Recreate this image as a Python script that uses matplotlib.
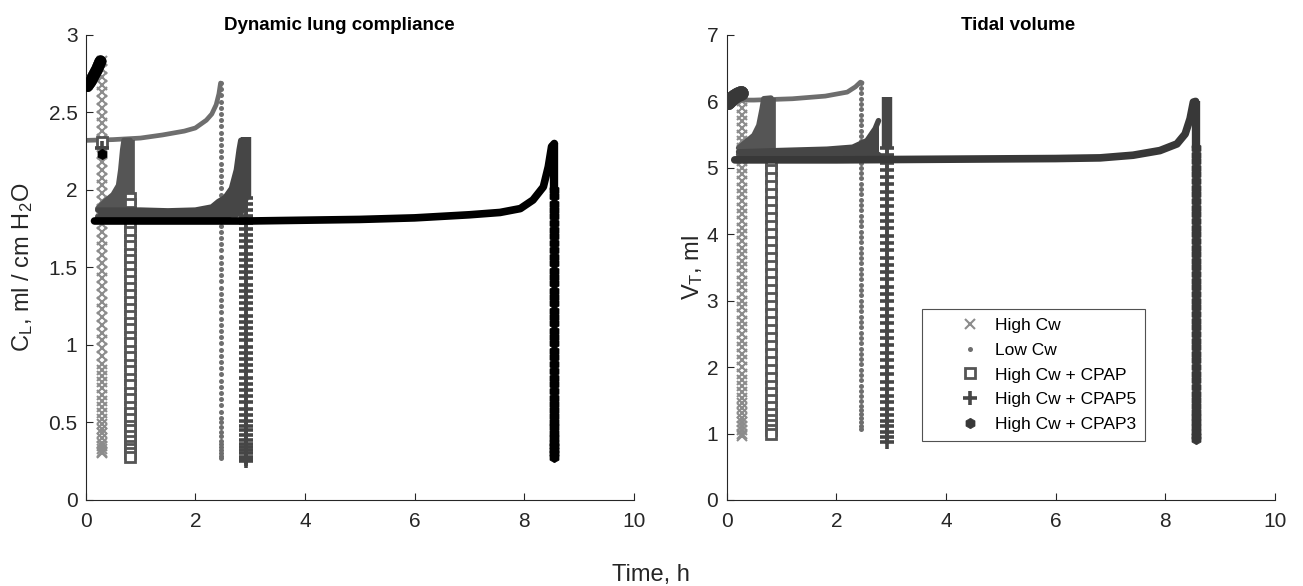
import matplotlib
matplotlib.use('Agg')
import matplotlib.pyplot as plt
from matplotlib.lines import Line2D

plt.rcParams['font.family'] = ['Liberation Sans', 'DejaVu Sans']
plt.rcParams['mathtext.fontset'] = 'custom'
plt.rcParams['mathtext.rm'] = 'Liberation Sans'
plt.rcParams['mathtext.it'] = 'Liberation Sans:italic'

# ---------------- data ----------------
series_labels = ['High Cw', 'Low Cw', 'High Cw + CPAP', 'High Cw + CPAP5', 'High Cw + CPAP3']
x_ticks = [0, 2, 4, 6, 8, 10]
cl_ticks = [0, 0.5, 1, 1.5, 2, 2.5, 3]
cl_tick_labels = ['0', '0.5', '1', '1.5', '2', '2.5', '3']
vt_ticks = [0, 1, 2, 3, 4, 5, 6, 7]
vt_tick_labels = ['0', '1', '2', '3', '4', '5', '6', '7']

# common High Cw phase before CPAP (h)
pre_t = [0.03, 0.09, 0.15, 0.21, 0.27]
pre_cl = [2.67, 2.70, 2.74, 2.78, 2.83]
pre_vt = [5.98, 6.03, 6.07, 6.10, 6.12]

# end times (collapse) of each scenario, h
t_end_hicw = 0.29
t_end_lowcw = 2.46
t_end_cpap = 0.81
t_end_cpap5 = 2.93
t_end_cpap3 = 8.55

# --- Dynamic lung compliance ---
hicw_drop_cl = [2.83, 2.78, 2.73, 2.68, 2.63, 2.58, 2.53, 2.48, 2.43, 2.38, 2.33, 2.28, 2.23, 2.18,
                2.13, 2.08, 2.03, 1.98, 1.93, 1.88, 1.83, 1.78, 1.73, 1.68, 1.63, 1.58, 1.53, 1.48,
                1.43, 1.38, 1.33, 1.28, 1.23, 1.18, 1.13, 1.08, 1.03, 0.98, 0.93, 0.88, 0.84, 0.80,
                0.76, 0.72, 0.68, 0.64, 0.60, 0.56, 0.52, 0.49, 0.46, 0.43, 0.40, 0.37, 0.35, 0.33,
                0.31, 0.30]

lowcw_t = [0.0, 0.5, 1.0, 1.4, 1.8, 2.0, 2.2, 2.3, 2.38, 2.43, 2.46]
lowcw_cl = [2.32, 2.325, 2.335, 2.355, 2.38, 2.40, 2.45, 2.49, 2.55, 2.62, 2.69]
lowcw_drop_cl = [2.69, 2.65, 2.61, 2.57, 2.53, 2.49, 2.45, 2.41, 2.37, 2.33, 2.29, 2.25, 2.21, 2.17,
                 2.13, 2.09, 2.05, 2.01, 1.97, 1.93, 1.89, 1.85, 1.81, 1.77, 1.73, 1.69, 1.65, 1.61,
                 1.57, 1.53, 1.49, 1.45, 1.41, 1.37, 1.33, 1.29, 1.25, 1.21, 1.17, 1.13, 1.09, 1.05,
                 1.01, 0.97, 0.93, 0.89, 0.85, 0.81, 0.77, 0.73, 0.69, 0.65, 0.61, 0.57, 0.53, 0.50,
                 0.47, 0.44, 0.41, 0.38, 0.36, 0.34, 0.32, 0.30, 0.285, 0.27]

cpap_trans_cl = 2.31
cpap_t = [0.22, 0.35, 0.50, 0.60, 0.64, 0.675, 0.70, 0.81]
cpap_hi_cl = [1.88, 1.925, 1.97, 2.03, 2.13, 2.26, 2.32, 2.32]
cpap_lo_cl = [1.83, 1.83, 1.84, 1.84, 1.85, 1.85, 1.86, 1.95]
cpap_solid_cl = [2.32, 1.95]
cpap_drop_cl = [1.95, 1.91, 1.86, 1.82, 1.77, 1.73, 1.68, 1.64, 1.59, 1.55, 1.50, 1.46, 1.41, 1.37,
                1.32, 1.28, 1.23, 1.19, 1.14, 1.10, 1.05, 1.01, 0.96, 0.92, 0.87, 0.83, 0.78, 0.74,
                0.69, 0.65, 0.60, 0.56, 0.52, 0.48, 0.45, 0.41, 0.38, 0.35, 0.33, 0.30, 0.28]

cpap5_trans_cl = 2.27
cpap5_t = [0.22, 0.5, 1.0, 1.5, 2.0, 2.3, 2.42, 2.54, 2.66, 2.75, 2.80, 2.83, 2.93]
cpap5_hi_cl = [1.87, 1.87, 1.87, 1.865, 1.87, 1.89, 1.925, 1.95, 2.01, 2.13, 2.26, 2.32, 2.32]
cpap5_lo_cl = [1.82, 1.82, 1.82, 1.82, 1.82, 1.82, 1.83, 1.83, 1.84, 1.84, 1.85, 1.85, 1.95]
cpap5_solid_cl = [2.34, 1.95]
cpap5_drop_cl = [1.95, 1.91, 1.87, 1.83, 1.79, 1.75, 1.71, 1.67, 1.63, 1.59, 1.55, 1.51, 1.47, 1.43,
                 1.39, 1.35, 1.31, 1.27, 1.23, 1.19, 1.15, 1.11, 1.07, 1.03, 0.99, 0.95, 0.91, 0.87,
                 0.83, 0.79, 0.75, 0.71, 0.67, 0.63, 0.59, 0.55, 0.51, 0.48, 0.45, 0.42, 0.39, 0.36,
                 0.34, 0.32, 0.30, 0.28, 0.265, 0.25]

cpap3_trans_cl = 2.23
cpap3_t = [0.16, 1.0, 2.0, 3.0, 4.0, 5.0, 6.0, 7.0, 7.56, 7.93, 8.16, 8.35, 8.44, 8.50, 8.55]
cpap3_cl = [1.80, 1.80, 1.80, 1.80, 1.805, 1.81, 1.82, 1.84, 1.855, 1.88, 1.935, 2.02, 2.15, 2.28, 2.30]
cpap3_solid_cl = [2.30, 2.00]
cpap3_drop_cl = [2.00, 1.96, 1.91, 1.87, 1.83, 1.79, 1.74, 1.70, 1.66, 1.61, 1.57, 1.53, 1.48, 1.44,
                 1.40, 1.35, 1.31, 1.27, 1.22, 1.18, 1.14, 1.09, 1.05, 1.01, 0.96, 0.92, 0.88, 0.83,
                 0.79, 0.75, 0.70, 0.66, 0.62, 0.58, 0.54, 0.50, 0.47, 0.43, 0.40, 0.37, 0.35, 0.32,
                 0.30, 0.28]

# --- Tidal volume ---
hicw_drop_vt = [6.10, 6.00, 5.90, 5.80, 5.70, 5.60, 5.50, 5.40, 5.30, 5.20, 5.10, 5.00, 4.90, 4.80,
                4.70, 4.60, 4.50, 4.40, 4.30, 4.20, 4.10, 4.00, 3.90, 3.80, 3.70, 3.60, 3.50, 3.40,
                3.30, 3.20, 3.10, 3.00, 2.90, 2.80, 2.70, 2.60, 2.50, 2.40, 2.30, 2.20, 2.10, 2.00,
                1.90, 1.80, 1.71, 1.62, 1.54, 1.46, 1.38, 1.31, 1.24, 1.17, 1.11, 1.05, 1.00, 0.97]

lowcw_vt_t = [0.0, 0.5, 1.2, 1.8, 2.2, 2.35, 2.44, 2.47]
lowcw_vt = [6.02, 6.02, 6.04, 6.08, 6.14, 6.22, 6.29, 6.28]
lowcw_drop_vt = [6.28, 6.20, 6.12, 6.04, 5.96, 5.88, 5.80, 5.72, 5.64, 5.56, 5.48, 5.40, 5.32, 5.24,
                 5.16, 5.08, 5.00, 4.92, 4.84, 4.76, 4.68, 4.60, 4.52, 4.44, 4.36, 4.28, 4.20, 4.12,
                 4.04, 3.96, 3.88, 3.80, 3.72, 3.64, 3.56, 3.48, 3.40, 3.32, 3.24, 3.16, 3.08, 3.00,
                 2.92, 2.84, 2.76, 2.68, 2.60, 2.52, 2.44, 2.36, 2.28, 2.20, 2.12, 2.04, 1.96, 1.88,
                 1.80, 1.72, 1.64, 1.56, 1.49, 1.42, 1.35, 1.29, 1.23, 1.17, 1.12, 1.07]

cpap_vt_t = [0.22, 0.31, 0.50, 0.59, 0.65, 0.68, 0.81]
cpap_hi_vt = [5.30, 5.36, 5.49, 5.64, 5.89, 6.04, 6.05]
cpap_lo_vt = [5.20, 5.21, 5.22, 5.23, 5.23, 5.24, 5.25]
cpap_solid_vt = [6.05, 5.22]
cpap_drop_vt = [5.20, 5.08, 4.96, 4.84, 4.72, 4.60, 4.48, 4.36, 4.24, 4.12, 4.00, 3.88, 3.76, 3.64,
                3.52, 3.40, 3.28, 3.16, 3.04, 2.92, 2.80, 2.68, 2.56, 2.44, 2.32, 2.20, 2.08, 1.96,
                1.84, 1.72, 1.61, 1.50, 1.40, 1.30, 1.21, 1.13, 1.06, 1.00]

cpap5_vt_t = [0.22, 0.97, 1.83, 2.30, 2.56, 2.71, 2.77]
cpap5_hi_vt = [5.24, 5.26, 5.28, 5.31, 5.41, 5.59, 5.71]
cpap5_lo_vt = [5.15, 5.15, 5.15, 5.16, 5.17, 5.18, 5.20]
cpap5_solid_vt = [6.07, 5.30]
cpap5_drop_vt = [5.30, 5.19, 5.08, 4.97, 4.86, 4.75, 4.64, 4.53, 4.42, 4.31, 4.20, 4.09, 3.98, 3.87,
                 3.76, 3.65, 3.54, 3.43, 3.32, 3.21, 3.10, 2.99, 2.88, 2.77, 2.66, 2.55, 2.44, 2.33,
                 2.22, 2.11, 2.00, 1.89, 1.78, 1.67, 1.57, 1.47, 1.37, 1.28, 1.19, 1.11, 1.03, 0.95,
                 0.88]

cpap3_vt_t = [0.15, 1.0, 2.0, 3.0, 4.0, 5.0, 6.0, 6.81, 7.41, 7.90, 8.21, 8.36, 8.45, 8.51, 8.55]
cpap3_vt = [5.12, 5.12, 5.12, 5.125, 5.13, 5.135, 5.14, 5.15, 5.19, 5.26, 5.36, 5.51, 5.74, 5.99, 6.00]
cpap3_solid_vt = [6.00, 5.30]
cpap3_drop_vt = [5.30, 5.20, 5.10, 5.00, 4.90, 4.80, 4.70, 4.60, 4.50, 4.40, 4.30, 4.20, 4.10, 4.00,
                 3.90, 3.80, 3.70, 3.60, 3.50, 3.40, 3.30, 3.20, 3.10, 3.00, 2.90, 2.80, 2.70, 2.60,
                 2.50, 2.40, 2.30, 2.20, 2.10, 2.00, 1.90, 1.80, 1.70, 1.60, 1.51, 1.42, 1.33, 1.25,
                 1.17, 1.10, 1.03, 0.97, 0.92]

# ---------------- style ----------------
C_HICW = '#8c8c8c'
C_LOWCW = '#6e6e6e'
C_CPAP = '#555555'
C_CPAP5 = '#464646'
C_CPAP3_L = '#000000'
C_CPAP3_R = '#383838'
AX_COL = '#262626'
FS = 13.5
FS_TICK = 15
FS_LAB = 17

M_HICW = dict(marker='x', ms=6.5, mew=1.5, ls='none')
M_LOWCW = dict(marker='o', ms=3.6, mew=0, ls='none')
M_CPAP = dict(marker='s', ms=6.5, mew=2.0, mfc='white', ls='none')
M_CPAP5 = dict(marker='+', ms=10, mew=2.6, ls='none')
M_CPAP3 = dict(marker='h', ms=7.5, mew=0.5, ls='none')

fig = plt.figure(figsize=(13.03, 5.86), dpi=100)
axL = fig.add_axes([0.0658, 0.1468, 0.4206, 0.7935])
axR = fig.add_axes([0.5576, 0.1468, 0.4210, 0.7935])


def curve(ax, t, y, c, lw, z):
    ax.plot(t, y, color=c, lw=lw, solid_capstyle='round', solid_joinstyle='round', zorder=z)


def envelope(ax, t, lo, hi, c, z):
    ax.fill_between(t, lo, hi, color=c, lw=0, zorder=z)
    curve(ax, t, hi, c, 4, z)
    curve(ax, t, lo, c, 4, z)


def drop(ax, t, vals, c, style, z, solid=None, solid_w=5):
    if solid is not None:
        ax.plot([t, t], solid, color=c, lw=solid_w, solid_capstyle='butt', zorder=z)
    ax.plot([t] * len(vals), vals, color=c, mec=c, zorder=z, **style)


# ---- left panel: dynamic lung compliance ----
ax = axL
curve(ax, pre_t, pre_cl, C_HICW, 8.5, 1)
drop(ax, t_end_hicw, hicw_drop_cl, C_HICW, M_HICW, 1)
curve(ax, lowcw_t, lowcw_cl, C_LOWCW, 3.4, 2)
drop(ax, t_end_lowcw, lowcw_drop_cl, C_LOWCW, M_LOWCW, 2)
curve(ax, pre_t, pre_cl, C_CPAP, 8.5, 3)
envelope(ax, cpap_t, cpap_lo_cl, cpap_hi_cl, C_CPAP, 3)
drop(ax, t_end_cpap, cpap_drop_cl, C_CPAP, M_CPAP, 3, cpap_solid_cl, 7)
ax.plot([t_end_hicw], [cpap_trans_cl], color=C_CPAP, mec=C_CPAP, zorder=3, **M_CPAP)
curve(ax, pre_t, pre_cl, C_CPAP5, 8.5, 4)
envelope(ax, cpap5_t, cpap5_lo_cl, cpap5_hi_cl, C_CPAP5, 4)
drop(ax, t_end_cpap5, cpap5_drop_cl, C_CPAP5, M_CPAP5, 4, cpap5_solid_cl, 7.5)
ax.plot([t_end_hicw], [cpap5_trans_cl], color=C_CPAP5, mec=C_CPAP5, zorder=4, **M_CPAP5)
curve(ax, pre_t, pre_cl, C_CPAP3_L, 8.5, 5)
curve(ax, cpap3_t, cpap3_cl, C_CPAP3_L, 5.5, 5)
drop(ax, t_end_cpap3, cpap3_drop_cl, C_CPAP3_L, M_CPAP3, 5, cpap3_solid_cl, 6)
ax.plot([t_end_hicw], [cpap3_trans_cl], color=C_CPAP3_L, mec=C_CPAP3_L, zorder=5, **M_CPAP3)

# ---- right panel: tidal volume ----
ax = axR
curve(ax, pre_t, pre_vt, C_HICW, 10.5, 1)
drop(ax, t_end_hicw, hicw_drop_vt, C_HICW, M_HICW, 1)
curve(ax, lowcw_vt_t, lowcw_vt, C_LOWCW, 3.4, 2)
drop(ax, t_end_lowcw, lowcw_drop_vt, C_LOWCW, M_LOWCW, 2)
curve(ax, pre_t, pre_vt, C_CPAP, 10.5, 3)
envelope(ax, cpap_vt_t, cpap_lo_vt, cpap_hi_vt, C_CPAP, 3)
drop(ax, t_end_cpap, cpap_drop_vt, C_CPAP, M_CPAP, 3, cpap_solid_vt, 7)
curve(ax, pre_t, pre_vt, C_CPAP5, 10.5, 4)
envelope(ax, cpap5_vt_t, cpap5_lo_vt, cpap5_hi_vt, C_CPAP5, 4)
drop(ax, t_end_cpap5, cpap5_drop_vt, C_CPAP5, M_CPAP5, 4, cpap5_solid_vt, 7.5)
curve(ax, pre_t, pre_vt, C_CPAP3_R, 10.5, 5)
curve(ax, cpap3_vt_t, cpap3_vt, C_CPAP3_R, 5.5, 5)
drop(ax, t_end_cpap3, cpap3_drop_vt, C_CPAP3_R, M_CPAP3, 5, cpap3_solid_vt, 6)

# ---- axes styling ----
for ax, ymax, yt, ytl in [(axL, 3, cl_ticks, cl_tick_labels), (axR, 7, vt_ticks, vt_tick_labels)]:
    ax.set_xlim(0, 10)
    ax.set_ylim(0, ymax)
    ax.set_xticks(x_ticks)
    ax.set_xticklabels([str(v) for v in x_ticks])
    ax.set_yticks(yt)
    ax.set_yticklabels(ytl)
    for s in ['top', 'right']:
        ax.spines[s].set_visible(False)
    for s in ['left', 'bottom']:
        ax.spines[s].set_color(AX_COL)
        ax.spines[s].set_linewidth(0.8)
    ax.tick_params(direction='in', length=5, width=0.8, color=AX_COL, labelcolor=AX_COL,
                   labelsize=FS_TICK)
    ax.tick_params(axis='x', pad=9)
    ax.tick_params(axis='y', pad=6)

axL.text(0.463, 1.021, 'Dynamic lung compliance', transform=axL.transAxes, ha='center',
         va='center', fontsize=FS, fontweight='bold', color='black')
axR.text(0.531, 1.021, 'Tidal volume', transform=axR.transAxes, ha='center',
         va='center', fontsize=FS, fontweight='bold', color='black')

axL.set_ylabel(r'C$_\mathregular{L}$, ml / cm H$_\mathregular{2}$O', fontsize=FS_LAB, color=AX_COL)
axL.yaxis.set_label_coords(-0.092, 0.5)
axR.set_ylabel(r'V$_\mathregular{T}$, ml', fontsize=FS_LAB, color=AX_COL)
axR.yaxis.set_label_coords(-0.040, 0.5)

fig.text(0.4996, 0.018, 'Time, h', ha='center', va='center', fontsize=FS_LAB, color=AX_COL)

# ---- legend ----
leg_styles = [(C_HICW, M_HICW), (C_LOWCW, M_LOWCW), (C_CPAP, M_CPAP), (C_CPAP5, M_CPAP5),
              (C_CPAP3_R, M_CPAP3)]
handles = [Line2D([], [], color=c, mec=c, **st) for c, st in leg_styles]
leg = axR.legend(handles, series_labels, loc='upper left', bbox_to_anchor=(0.356, 0.41),
                 borderaxespad=0, frameon=True, fancybox=False, fontsize=12.5,
                 handlelength=4.5, handletextpad=-0.8, borderpad=0.5, labelspacing=0.55,
                 numpoints=1)
fr = leg.get_frame()
fr.set_edgecolor(AX_COL)
fr.set_linewidth(0.8)
for txt in leg.get_texts():
    txt.set_color('black')

fig.savefig('out.png', dpi=100)
